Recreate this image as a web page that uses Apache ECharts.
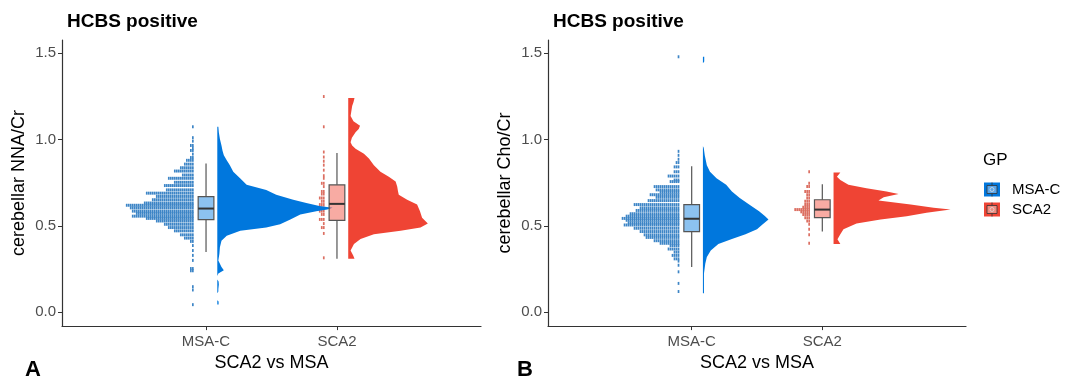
<!DOCTYPE html>
<html>
<head>
<meta charset="utf-8">
<script src="https://cdn.jsdelivr.net/npm/echarts@6/dist/echarts.min.js"></script>
<style>
  html, body { margin: 0; padding: 0; background: #fff; }
  #chart { width: 1065px; height: 377px; }
</style>
</head>
<body>
<div id="chart"></div>
<script>
const categories = ["MSA-C", "SCA2"]
const yTicks = [0, 0.5, 1.0, 1.5]

// panel A - cerebellar NNA/Cr
const naaMsacBox = [0.348, 0.536, 0.600, 0.669, 0.860]
const naaSca2Box = [0.310, 0.532, 0.627, 0.737, 0.921]

const naaMsacViolinY = [1.073, 1.04, 1.003, 0.965, 0.935, 0.908, 0.879, 0.851, 0.813, 0.775, 0.737, 0.708, 0.680, 0.651, 0.632, 0.615, 0.604, 0.595, 0.585, 0.566, 0.537, 0.509, 0.490, 0.471, 0.443, 0.414, 0.376, 0.338, 0.300, 0.262, 0.243, 0.224, 0.21, 0.19, 0.178, 0.16, 0.148, 0.135, 0.12, 0.11, 0.07, 0.062, 0.045]
const naaMsacViolinD = [0.04, 0.06, 0.10, 0.16, 0.20, 0.25, 0.36, 0.48, 0.61, 0.87, 1.12, 1.87, 2.25, 2.90, 3.40, 3.90, 4.40, 4.20, 3.78, 3.17, 2.79, 2.40, 1.87, 0.88, 0.36, 0.16, 0.10, 0.08, 0.04, 0.16, 0.25, 0.04, 0.0, 0.0, 0.05, 0.06, 0.05, 0.04, 0.04, 0.0, 0.0, 0.05, 0.05]
const naaSca2ViolinY = [1.24, 1.215, 1.193, 1.136, 1.105, 1.079, 1.06, 1.041, 1.01, 0.984, 0.965, 0.946, 0.917, 0.889, 0.851, 0.813, 0.784, 0.756, 0.727, 0.70, 0.680, 0.651, 0.623, 0.585, 0.547, 0.513, 0.490, 0.471, 0.452, 0.424, 0.395, 0.357, 0.329, 0.31]
const naaSca2ViolinD = [0.24, 0.20, 0.15, 0.09, 0.20, 0.45, 0.40, 0.28, 0.14, 0.09, 0.15, 0.28, 0.60, 0.79, 0.98, 1.23, 1.55, 1.81, 1.87, 1.90, 1.93, 2.25, 2.63, 2.74, 2.82, 3.04, 2.76, 2.00, 0.98, 0.47, 0.22, 0.09, 0.19, 0.24]

const naaMsacDotY = [1.073, 1.01, 0.99, 0.965, 0.95, 0.936, 0.915, 0.895, 0.879, 0.857, 0.836, 0.817, 0.794, 0.775, 0.752, 0.733, 0.708, 0.689, 0.670, 0.651, 0.632, 0.619, 0.604, 0.585, 0.572, 0.556, 0.543, 0.528, 0.509, 0.490, 0.471, 0.448, 0.429, 0.410, 0.386, 0.357, 0.329, 0.30, 0.253, 0.24, 0.148, 0.129, 0.044]
const naaMsacDotN = [1, 1, 1, 2, 1, 2, 1, 2, 4, 5, 7, 10, 6, 13, 10, 15, 14, 24, 19, 21, 25, 34, 32, 31, 29, 31, 24, 19, 15, 13, 10, 7, 5, 2, 1, 1, 1, 1, 2, 2, 1, 1, 1]
const naaSca2DotY = [1.248, 1.073, 0.927, 0.898, 0.874, 0.851, 0.822, 0.790, 0.775, 0.746, 0.727, 0.699, 0.684, 0.661, 0.642, 0.623, 0.604, 0.585, 0.566, 0.537, 0.513, 0.490, 0.456, 0.315]
const naaSca2DotN = [1, 1, 1, 1, 1, 1, 1, 1, 1, 2, 1, 2, 2, 3, 2, 3, 4, 3, 2, 3, 1, 2, 1, 1]

// panel B - cerebellar Cho/Cr
const choMsacBox = [0.262, 0.466, 0.541, 0.623, 0.845]
const choSca2Box = [0.467, 0.547, 0.594, 0.651, 0.741]

const choMsacViolinY = [1.478, 1.45, 1.44, 0.96, 0.952, 0.908, 0.851, 0.813, 0.775, 0.737, 0.699, 0.661, 0.623, 0.585, 0.557, 0.537, 0.509, 0.480, 0.452, 0.424, 0.395, 0.357, 0.319, 0.281, 0.224, 0.11]
const choMsacViolinD = [0.05, 0.05, 0, 0, 0.03, 0.07, 0.15, 0.27, 0.52, 0.89, 1.11, 1.41, 1.77, 2.15, 2.37, 2.51, 2.29, 2.07, 1.63, 1.11, 0.59, 0.30, 0.15, 0.09, 0.04, 0.04]
const choSca2ViolinY = [0.809, 0.784, 0.765, 0.737, 0.718, 0.699, 0.684, 0.665, 0.646, 0.623, 0.604, 0.594, 0.575, 0.556, 0.537, 0.513, 0.480, 0.452, 0.423, 0.395]
const choSca2ViolinD = [0.26, 0.13, 0.26, 0.57, 1.26, 2.03, 2.49, 1.92, 1.72, 2.95, 3.83, 4.48, 3.56, 2.80, 1.80, 0.88, 0.38, 0.26, 0.15, 0.26]

const choMsacDotY = [1.478, 0.931, 0.908, 0.885, 0.866, 0.841, 0.813, 0.788, 0.765, 0.756, 0.727, 0.708, 0.695, 0.680, 0.665, 0.646, 0.623, 0.604, 0.589, 0.570, 0.556, 0.543, 0.532, 0.517, 0.505, 0.486, 0.467, 0.448, 0.433, 0.414, 0.399, 0.386, 0.366, 0.348, 0.329, 0.309, 0.296, 0.272, 0.234, 0.167, 0.120]
const choMsacDotN = [1, 1, 1, 1, 2, 3, 3, 6, 3, 5, 13, 12, 10, 15, 12, 16, 23, 20, 22, 25, 27, 29, 27, 26, 28, 23, 20, 18, 17, 13, 10, 5, 6, 3, 4, 3, 1, 1, 1, 1, 1]
const choSca2DotY = [0.813, 0.746, 0.727, 0.699, 0.680, 0.661, 0.642, 0.623, 0.608, 0.594, 0.581, 0.566, 0.547, 0.528, 0.509, 0.480, 0.448, 0.399]
const choSca2DotN = [1, 1, 2, 3, 2, 2, 3, 3, 4, 8, 5, 4, 3, 2, 1, 1, 1, 1]

// layout constants, in x data units
const violinOffset = 0.086
const violinScale = 0.2
const dotOffset = 0.092
const dotStep = 0.0153
const binHalf = 0.0086
const boxHalf = 0.06

const colors = {
  msacViolin: "#0077dd", sca2Violin: "#ef4434",
  msacDot: "#3d85c6", sca2Dot: "#dc6f62",
  msacBox: "rgba(0,119,221,0.45)", sca2Box: "rgba(239,68,52,0.45)"
}
const font = "Liberation Sans"

function violinSeries(ys, ds, cat, color, panel) {
  return {
    type: "custom", xAxisIndex: panel, yAxisIndex: panel, silent: true, z: 3,
    data: [[cat, ys[0]]],
    renderItem: (params, api) => {
      const base = cat + violinOffset
      const pts = ys.map((y, i) => api.coord([base + ds[i] * violinScale, y]))
      pts.push(api.coord([base, ys[ys.length - 1]]), api.coord([base, ys[0]]))
      return { type: "polygon", shape: { points: pts }, style: { fill: color } }
    }
  }
}

function dotSeries(ys, ns, cat, color, panel) {
  return {
    type: "custom", xAxisIndex: panel, yAxisIndex: panel, silent: true, z: 2,
    encode: { x: 0, y: 1 },
    data: ys.map((y, i) => [cat, y, ns[i]]),
    renderItem: (params, api) => {
      const y = api.value(1), n = api.value(2)
      const base = cat - dotOffset
      const children = []
      for (let i = 0; i < n; i++) {
        const p1 = api.coord([base - (i + 1) * dotStep, y + binHalf])
        const p2 = api.coord([base - i * dotStep, y - binHalf])
        children.push({
          type: "rect",
          shape: { x: p1[0], y: p1[1], width: (p2[0] - p1[0]) * 0.85, height: p2[1] - p1[1] },
          style: { fill: color }
        })
      }
      return { type: "group", children }
    }
  }
}

function boxSeries(box, cat, fill, panel) {
  return {
    type: "custom", xAxisIndex: panel, yAxisIndex: panel, silent: true, z: 4,
    data: [[cat].concat(box)],
    renderItem: (params, api) => {
      const [lo, q1, med, q3, hi] = box
      const top = api.coord([cat, hi]), bot = api.coord([cat, lo])
      const a = api.coord([cat - boxHalf, q3]), b = api.coord([cat + boxHalf, q1])
      const m1 = api.coord([cat - boxHalf, med]), m2 = api.coord([cat + boxHalf, med])
      const line = { stroke: "#555", lineWidth: 1.2 }
      return {
        type: "group",
        children: [
          { type: "line", shape: { x1: top[0], y1: top[1], x2: top[0], y2: a[1] }, style: line },
          { type: "line", shape: { x1: bot[0], y1: b[1], x2: bot[0], y2: bot[1] }, style: line },
          { type: "rect", shape: { x: a[0], y: a[1], width: b[0] - a[0], height: b[1] - a[1] },
            style: { fill: fill, stroke: "#555", lineWidth: 1.2 } },
          { type: "line", shape: { x1: m1[0], y1: m1[1], x2: m2[0], y2: m2[1] },
            style: { stroke: "#333", lineWidth: 2 } }
        ]
      }
    }
  }
}

function xAxis(panel) {
  return {
    type: "value", gridIndex: panel, min: -0.1, max: 3.1,
    name: "SCA2 vs MSA", nameLocation: "middle", nameGap: 25,
    nameTextStyle: { fontFamily: font, fontSize: 18, color: "#000" },
    splitLine: { show: false },
    axisLine: { onZero: false, lineStyle: { color: "#333", width: 1.2 } },
    axisTick: { customValues: [1, 2], length: 4, lineStyle: { color: "#333" } },
    axisLabel: {
      customValues: [1, 2], margin: 8, fontFamily: font, fontSize: 15, color: "#4d4d4d",
      formatter: v => categories[Math.round(v) - 1]
    }
  }
}

function yAxis(panel, name) {
  return {
    type: "value", gridIndex: panel, min: -0.08, max: 1.575,
    name: name, nameLocation: "middle", nameGap: 34,
    nameTextStyle: { fontFamily: font, fontSize: 18, color: "#000" },
    splitLine: { show: false },
    axisLine: { show: true, onZero: false, lineStyle: { color: "#333", width: 1.2 } },
    axisTick: { show: true, customValues: yTicks, length: 4, lineStyle: { color: "#333" } },
    axisLabel: {
      customValues: yTicks, margin: 6, fontFamily: font, fontSize: 15, color: "#4d4d4d",
      formatter: v => v.toFixed(1)
    }
  }
}

function legendKey(y, fill, inner, label) {
  return {
    type: "group", left: 984, top: y,
    children: [
      { type: "rect", shape: { x: 0, y: 0, width: 16, height: 14 }, style: { fill: fill } },
      { type: "rect", shape: { x: 3, y: 3, width: 10, height: 8 }, style: { fill: inner, stroke: "#333", lineWidth: 0.8 } },
      { type: "line", shape: { x1: 8, y1: 0, x2: 8, y2: 3 }, style: { stroke: "#333", lineWidth: 0.8 } },
      { type: "line", shape: { x1: 8, y1: 11, x2: 8, y2: 14 }, style: { stroke: "#333", lineWidth: 0.8 } },
      { type: "circle", shape: { cx: 8, cy: 7, r: 2 }, style: { fill: "none", stroke: "#ddd", lineWidth: 0.8 } },
      { type: "text", x: 28, y: 7, style: { text: label, fontFamily: font, fontSize: 15, fill: "#000", verticalAlign: "middle" } }
    ]
  }
}

const chart = echarts.init(document.getElementById("chart"))
chart.setOption({
  animation: false,
  backgroundColor: "#fff",
  title: [
    { text: "HCBS positive", left: 62, top: 7, textStyle: { fontFamily: font, fontSize: 19, fontWeight: "bold", color: "#000" } },
    { text: "HCBS positive", left: 548, top: 7, textStyle: { fontFamily: font, fontSize: 19, fontWeight: "bold", color: "#000" } },
    { text: "A", left: 20, top: 354, textStyle: { fontFamily: font, fontSize: 22, fontWeight: "bold", color: "#000" } },
    { text: "B", left: 512, top: 354, textStyle: { fontFamily: font, fontSize: 22, fontWeight: "bold", color: "#000" } }
  ],
  grid: [
    { left: 62, top: 40, width: 419, height: 290 },
    { left: 548, top: 40, width: 418, height: 290 }
  ],
  xAxis: [xAxis(0), xAxis(1)],
  yAxis: [yAxis(0, "cerebellar NNA/Cr"), yAxis(1, "cerebellar Cho/Cr")],
  graphic: [
    { type: "text", left: 983, top: 152, style: { text: "GP", fontFamily: font, fontSize: 17, fill: "#000" } },
    legendKey(180, colors.msacViolin, "#5aa6ea", "MSA-C"),
    legendKey(200, colors.sca2Violin, "#f08a7e", "SCA2")
  ],
  series: [
    dotSeries(naaMsacDotY, naaMsacDotN, 1, colors.msacDot, 0),
    dotSeries(naaSca2DotY, naaSca2DotN, 2, colors.sca2Dot, 0),
    violinSeries(naaMsacViolinY, naaMsacViolinD, 1, colors.msacViolin, 0),
    violinSeries(naaSca2ViolinY, naaSca2ViolinD, 2, colors.sca2Violin, 0),
    boxSeries(naaMsacBox, 1, colors.msacBox, 0),
    boxSeries(naaSca2Box, 2, colors.sca2Box, 0),

    dotSeries(choMsacDotY, choMsacDotN, 1, colors.msacDot, 1),
    dotSeries(choSca2DotY, choSca2DotN, 2, colors.sca2Dot, 1),
    violinSeries(choMsacViolinY, choMsacViolinD, 1, colors.msacViolin, 1),
    violinSeries(choSca2ViolinY, choSca2ViolinD, 2, colors.sca2Violin, 1),
    boxSeries(choMsacBox, 1, colors.msacBox, 1),
    boxSeries(choSca2Box, 2, colors.sca2Box, 1)
  ]
})
</script>
</body>
</html>
